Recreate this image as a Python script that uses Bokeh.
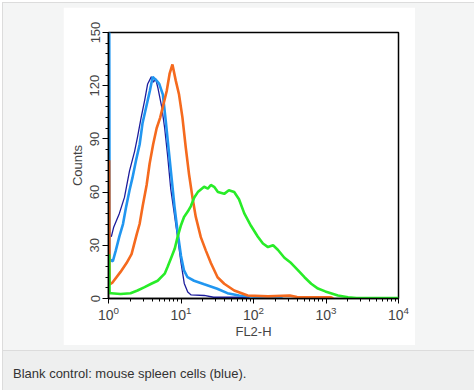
from bokeh.plotting import figure
from bokeh.models import Range1d, FixedTicker, Div
from bokeh.layouts import column
from bokeh.embed import file_html
from bokeh.resources import INLINE

# ---- data: positions in decades of FL2-H (log10), counts ----
navy_dec = [0.0, 0.015, 0.04, 0.07, 0.11, 0.15, 0.22, 0.29, 0.36, 0.40, 0.45, 0.50, 0.54,
            0.59, 0.62, 0.65, 0.68, 0.734, 0.775, 0.817, 0.858, 0.907, 0.955, 0.997,
            1.045, 1.093, 1.14, 1.32, 1.45, 1.93, 1.95]
navy_cnt = [35, 35, 35, 40, 44, 48, 57, 72, 83, 91, 102, 112, 121,
            125, 122, 124, 119, 108, 96, 80, 62, 48, 34, 21,
            8.5, 3.6, 2, 1.7, 0.7, 0.7, 0]

blue_dec = [0.01, 0.015, 0.06, 0.10, 0.15, 0.20, 0.24, 0.29, 0.33, 0.38, 0.43, 0.47, 0.52,
            0.57, 0.61, 0.66, 0.70, 0.75, 0.79, 0.83, 0.87, 0.91, 0.955, 1.0, 1.04,
            1.09, 1.18, 1.32, 1.50, 1.64, 1.80, 2.10, 2.35, 2.40]
blue_cnt = [160, 22, 21, 27, 35, 42, 51, 61, 68, 78, 87, 99, 108,
            117, 125, 123, 121, 115, 100, 84, 68, 52, 37, 24, 16,
            12, 10, 8, 5.5, 3, 1.7, 0.7, 0.5, 0]

orange_dec = [0.01, 0.015, 0.055, 0.166, 0.249, 0.318, 0.388, 0.429, 0.471, 0.526, 0.567,
              0.616, 0.664, 0.713, 0.761, 0.803, 0.844, 0.882, 0.927, 0.973, 1.02, 1.066,
              1.111, 1.158, 1.204, 1.273, 1.343, 1.412, 1.504, 1.596, 1.734, 1.92, 2.2,
              2.5, 2.6, 3.07, 3.1]
orange_cnt = [78, 8, 9, 15, 20, 25, 36, 42, 52, 64, 76,
              87, 96, 102, 110, 117, 127, 132, 123, 115, 102, 85,
              70, 57, 46, 34.6, 27, 20, 12, 8.3, 4.5, 1.7, 1.2,
              1.7, 0.8, 0.7, 0]

green_dec = [0.01, 0.015, 0.037, 0.166, 0.304, 0.40, 0.498, 0.59, 0.678, 0.775, 0.817, 0.865,
             0.913, 0.955, 0.997, 1.042, 1.093, 1.135, 1.183, 1.232, 1.319, 1.37, 1.412,
             1.457, 1.509, 1.596, 1.66, 1.734, 1.80, 1.873, 1.965, 2.058, 2.13, 2.20, 2.27,
             2.335, 2.426, 2.519, 2.612, 2.703, 2.796, 2.889, 2.99, 3.165, 3.304, 3.42, 4.0]
green_cnt = [25, 3, 3, 2.5, 3, 4.5, 6.4, 8.3, 10, 14, 18, 23,
             28, 35, 41, 46, 49, 52, 57, 60, 63, 62, 64,
             63, 60, 59, 61, 60, 56, 48, 41, 35, 31, 29, 30,
             27.5, 23, 20, 16, 12, 8.3, 5.6, 4, 1.7, 0.7, 0.3, 0.3]

x_major = [1, 10, 100, 1000, 10000]
y_major = [0, 30, 60, 90, 120, 150]
caption = "Blank control: mouse spleen cells (blue)."

FONT = "Liberation Sans"

p = figure(width=352, height=338, x_axis_type="log",
           x_range=Range1d(1, 1e4), y_range=Range1d(0, 150),
           output_backend="svg", toolbar_location=None,
           min_border_left=45, min_border_right=17,
           min_border_top=25, min_border_bottom=47,
           margin=(4, 59, 5, 60))
p.border_fill_color = "white"
p.background_fill_color = "white"
p.outline_line_color = "black"
p.outline_line_width = 1.5
p.grid.visible = False


def dec2x(d):
    return [10 ** v for v in d]


p.line(dec2x(navy_dec), navy_cnt, line_color="#1c1c9c", line_width=1.3)
p.line(dec2x(blue_dec), blue_cnt, line_color="#2196f0", line_width=2.6)
p.line(dec2x(orange_dec), orange_cnt, line_color="#f56a1e", line_width=2.6)
p.line(dec2x(green_dec), green_cnt, line_color="#28ec28", line_width=2.6)

xa = p.xaxis[0]
xa.ticker = FixedTicker(ticks=x_major,
                        minor_ticks=[k * 10 ** d for d in range(4) for k in range(2, 10)])
xa.axis_label = "FL2-H"
xa.axis_label_text_font = FONT
xa.axis_label_text_font_size = "13px"
xa.axis_label_text_font_style = "normal"
xa.axis_label_standoff = 1
xa.major_label_text_font = FONT
xa.major_label_text_font_size = "14px"
xa.major_label_standoff = 2
xa.major_tick_in = 0
xa.major_tick_out = 5
xa.minor_tick_in = 0
xa.minor_tick_out = 3
xa.axis_line_color = "black"
xa.axis_line_width = 1.5

ya = p.yaxis[0]
ya.ticker = FixedTicker(ticks=y_major, minor_ticks=list(range(0, 151, 6)))
ya.axis_label = "Counts"
ya.axis_label_text_font = FONT
ya.axis_label_text_font_size = "13px"
ya.axis_label_text_font_style = "normal"
ya.axis_label_standoff = 3
ya.major_label_orientation = "vertical"
ya.major_label_text_font = FONT
ya.major_label_text_font_size = "13px"
ya.major_label_standoff = 3
ya.major_tick_in = 0
ya.major_tick_out = 6
ya.minor_tick_in = 0
ya.minor_tick_out = 3
ya.axis_line_color = "black"
ya.axis_line_width = 1.5

cap = Div(text=('<div style="box-sizing:border-box;width:471px;height:40px;'
                'border-top:1px solid #dcdcdc;background:#eeefef;'
                'padding:15px 0 0 10px;font-family:\'Liberation Sans\',Arial,sans-serif;'
                'font-size:13px;line-height:15px;color:#333333;">' + caption + '</div>'),
          width=471, height=40, margin=0)

root = column(p, cap, margin=(2, 0, 0, 2), spacing=0,
              styles={"background-color": "#f4f5f5",
                      "border-top": "1px solid #dcdcdc",
                      "border-left": "1px solid #dcdcdc"})

open("out.html", "w").write(file_html(root, INLINE))
